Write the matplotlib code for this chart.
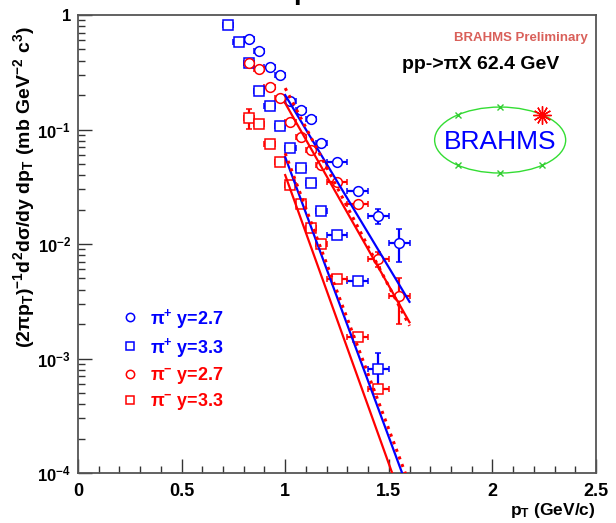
import matplotlib
matplotlib.use('Agg')
import matplotlib.pyplot as plt
from matplotlib import font_manager
import numpy as np
from matplotlib.patches import Ellipse
from matplotlib.lines import Line2D
from matplotlib.ticker import FixedLocator, FixedFormatter, NullFormatter

plt.rcParams['font.family'] = ['Liberation Sans', 'DejaVu Sans']
plt.rcParams['mathtext.fontset'] = 'custom'
plt.rcParams['mathtext.rm'] = 'Liberation Sans:bold'
plt.rcParams['mathtext.bf'] = 'Liberation Sans:bold'
plt.rcParams['mathtext.it'] = 'Liberation Sans:bold'
plt.rcParams['mathtext.default'] = 'bf'

installed = {f.name for f in font_manager.fontManager.ttflist}
narrow = 'Liberation Sans Narrow' if 'Liberation Sans Narrow' in installed else 'Liberation Sans'

# pi+ at y=2.7 (blue circles)
pip27_pt = [0.825, 0.875, 0.925, 0.975, 1.025, 1.075, 1.125, 1.175, 1.25, 1.35, 1.45, 1.55]
pip27_val = [0.617, 0.485, 0.352, 0.299, 0.177, 0.148, 0.1235, 0.0762, 0.0520, 0.0290, 0.0176, 0.0102]
pip27_err = [np.nan] * 9 + [0.0015, 0.0027, 0.0033]

# pi+ at y=3.3 (blue squares)
pip33_pt = [0.725, 0.775, 0.825, 0.875, 0.925, 0.975, 1.025, 1.075, 1.125, 1.175, 1.25, 1.35, 1.45]
pip33_val = [0.818, 0.581, 0.381, 0.217, 0.160, 0.107, 0.0689, 0.0461, 0.0341, 0.0194, 0.0120, 0.00475, 0.00081]
pip33_err = [np.nan] * 12 + [0.0003]

# pi- at y=2.7 (red circles)
pim27_pt = [0.825, 0.875, 0.925, 0.975, 1.025, 1.075, 1.125, 1.175, 1.25, 1.35, 1.45, 1.55]
pim27_val = [0.381, 0.338, 0.235, 0.188, 0.116, 0.0860, 0.0662, 0.0490, 0.0348, 0.0223, 0.00740, 0.00352]
pim27_err = [np.nan] * 10 + [0.0011, 0.0015]

# pi- at y=3.3 (red squares)
pim33_pt = [0.825, 0.875, 0.925, 0.975, 1.025, 1.075, 1.125, 1.175, 1.25, 1.35, 1.45]
pim33_val = [0.126, 0.112, 0.0747, 0.0520, 0.0328, 0.0223, 0.0138, 0.0100, 0.00494, 0.00154, 0.000542]
pim33_err = [0.025] + [np.nan] * 10

# exponential fits: value at pT=1 and log10 slope per GeV/c
fit_y0 = [0.200, 0.170, 0.23, 0.0575, 0.040, 0.062]
fit_slope = [-3.01, -3.19, -3.46, -4.89, -5.04, -4.82]
fit_color = ['blue', 'red', 'red', 'blue', 'red', 'red']
fit_style = ['-', '-', ':', '-', '-', ':']

xticks = [0, 0.5, 1, 1.5, 2, 2.5]
xticklabels = ['0', '0.5', '1', '1.5', '2', '2.5']
yticks = [1e-4, 1e-3, 1e-2, 1e-1, 1]
yticklabels = ['10$^{-4}$', '10$^{-3}$', '10$^{-2}$', '10$^{-1}$', '1']


def half_bin(pt):
    return [0.025 if p < 1.2 else 0.05 for p in pt]


fig = plt.figure(figsize=(6.16, 5.23), dpi=100)
ax = fig.add_axes([0.1266, 0.0956, 0.8409, 0.8757])
ax.set_yscale('log')
ax.set_xlim(0, 2.5)
ax.set_ylim(1e-4, 1)

series = [
    (pip27_pt, pip27_val, pip27_err, 'o', 'blue'),
    (pip33_pt, pip33_val, pip33_err, 's', 'blue'),
    (pim27_pt, pim27_val, pim27_err, 'o', 'red'),
    (pim33_pt, pim33_val, pim33_err, 's', 'red'),
]
for pt, val, err, mk, col in series:
    ax.errorbar(pt, val, xerr=half_bin(pt), yerr=err, fmt=mk, color=col,
                mfc='white', mec=col, ms=7, mew=1.1, elinewidth=1.6,
                capsize=2.5, capthick=1.6, zorder=3)

pt_fit = np.linspace(1.0, 1.6, 60)
for y0, s, c, ls in zip(fit_y0, fit_slope, fit_color, fit_style):
    ax.plot(pt_fit, y0 * 10 ** (s * (pt_fit - 1.0)), color=c, ls=ls,
            lw=2.2 if ls == ':' else 1.6, zorder=4)

# axis styling
ax.xaxis.set_major_locator(FixedLocator(xticks))
ax.xaxis.set_major_formatter(FixedFormatter(xticklabels))
ax.xaxis.set_minor_locator(FixedLocator(np.arange(0.1, 2.5, 0.1)))
ax.yaxis.set_major_locator(FixedLocator(yticks))
ax.yaxis.set_major_formatter(FixedFormatter(yticklabels))
minor_y = [m * 10.0 ** e for e in range(-4, 0) for m in range(2, 10)]
ax.yaxis.set_minor_locator(FixedLocator(minor_y))
ax.yaxis.set_minor_formatter(NullFormatter())
ax.tick_params(which='both', direction='in', top=False, right=False,
               color='#333333', labelsize=13)
ax.tick_params(which='major', length=10, width=1.0, pad=7)
ax.tick_params(axis='y', which='major', pad=5)
ax.tick_params(which='minor', length=5, width=1.0)
for lab in ax.get_xticklabels():
    lab.set_fontweight('bold')
for lab in ax.get_yticklabels():
    lab.set_fontweight('bold')
    lab.set_family(narrow)
    lab.set_fontsize(12)
for sp in ax.spines.values():
    sp.set_color('#555555')
    sp.set_linewidth(1.3)

ax.set_ylabel('(2πp$_T$)$^{-1}$d$^2$dσ/dy dp$_T$ (mb GeV$^{-2}$ c$^3$)',
              fontsize=14, fontweight='bold')
ax.yaxis.set_label_coords(-0.079, 0.625)
ax.set_xlabel('p$_T$ (GeV/c)', fontsize=12.5, fontweight='bold')
ax.xaxis.set_label_coords(1.0, -0.062)
ax.xaxis.label.set_horizontalalignment('right')

# legend
handles = [
    Line2D([], [], marker='o', ls='none', mfc='white', mec='blue', ms=6, mew=1.1),
    Line2D([], [], marker='s', ls='none', mfc='white', mec='blue', ms=6, mew=1.1),
    Line2D([], [], marker='o', ls='none', mfc='white', mec='red', ms=6, mew=1.1),
    Line2D([], [], marker='s', ls='none', mfc='white', mec='red', ms=6, mew=1.1),
]
labels = ['π$^{+}$ y=2.7', 'π$^{+}$ y=3.3', 'π$^{-}$ y=2.7', 'π$^{-}$ y=3.3']
leg = ax.legend(handles, labels, loc='upper left', bbox_to_anchor=(0.083, 0.363),
                frameon=False, borderaxespad=0, borderpad=0, handlelength=1.0,
                handletextpad=0.6, labelspacing=0.28,
                prop={'size': 13, 'weight': 'bold'})
for txt, col in zip(leg.get_texts(), ['blue', 'blue', 'red', 'red']):
    txt.set_color(col)

# annotations
ax.text(0.985, 0.95, 'BRAHMS Preliminary', transform=ax.transAxes, ha='right',
        va='center', color='#d9605a', fontsize=9.5, fontweight='bold')
ax.text(0.625, 0.893, 'pp->πX 62.4 GeV', transform=ax.transAxes, ha='left',
        va='center', color='black', fontsize=14, fontweight='bold')

# BRAHMS logo
ecx, ecy, ew, eh = 0.815, 0.727, 0.253, 0.144
ax.add_patch(Ellipse((ecx, ecy), ew, eh, transform=ax.transAxes, fill=False,
                     edgecolor='#33dd33', lw=1.0))
ang = np.deg2rad([90, 130, 230, 270, 310])
ax.plot(ecx + ew / 2 * np.cos(ang), ecy + eh / 2 * np.sin(ang), 'x',
        color='#33cc33', ms=5, mew=1.0, transform=ax.transAxes)
star = np.deg2rad(50)
ax.plot(ecx + ew / 2 * np.cos(star), ecy + eh / 2 * np.sin(star),
        marker=(12, 2, 0), color='red', ms=13, mew=1.0, transform=ax.transAxes)
ax.text(ecx, ecy - 0.005, 'BRAHMS', transform=ax.transAxes, ha='center',
        va='center', color='blue', fontsize=19)

fig.text(0.489, 1.0 + 1.0 / 523, 'p', ha='center', va='baseline',
         fontsize=20, fontweight='bold')

fig.savefig('out.png', dpi=100)
